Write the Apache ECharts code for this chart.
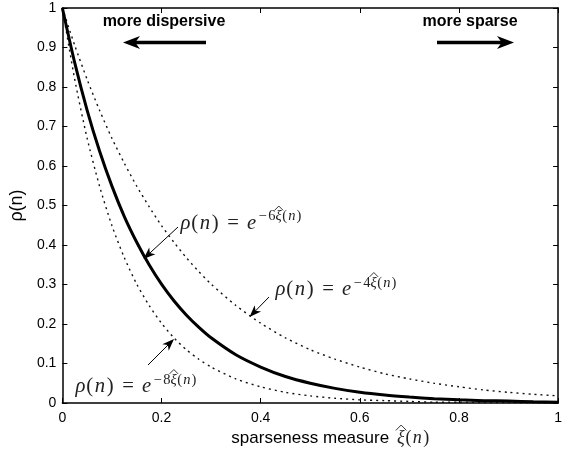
<!DOCTYPE html>
<html><head><meta charset="utf-8">
<script src="https://cdn.jsdelivr.net/npm/echarts@6/dist/echarts.min.js"></script>
<style>html,body{margin:0;padding:0;background:#fff}#c{width:565px;height:457px}</style>
</head><body><div id="c"></div>
<script>
// ---- data ----
const xVals = [0,0.025,0.05,0.075,0.1,0.125,0.15,0.175,0.2,0.225,0.25,0.275,0.3,0.35,0.4,0.45,0.5,0.55,0.6,0.65,0.7,0.75,0.8,0.85,0.9,0.95,1];
const rhoK4 = [1,0.905,0.819,0.741,0.670,0.607,0.549,0.497,0.449,0.407,0.368,0.333,0.301,0.247,0.202,0.165,0.135,0.111,0.091,0.074,0.061,0.050,0.041,0.033,0.027,0.022,0.018];
const rhoK6 = [1,0.861,0.741,0.638,0.549,0.472,0.407,0.350,0.301,0.259,0.223,0.192,0.165,0.122,0.091,0.067,0.050,0.037,0.027,0.020,0.015,0.011,0.008,0.006,0.005,0.003,0.002];
const rhoK8 = [1,0.819,0.670,0.549,0.449,0.368,0.301,0.247,0.202,0.165,0.135,0.111,0.091,0.061,0.041,0.027,0.018,0.012,0.008,0.006,0.004,0.002,0.002,0.001,0.001,0.0005,0.0003];
const xTickLabels = ['0','0.2','0.4','0.6','0.8','1'];
const yTickLabels = ['0','0.1','0.2','0.3','0.4','0.5','0.6','0.7','0.8','0.9','1'];
const leftNote = 'more dispersive';
const rightNote = 'more sparse';
const xName = 'sparseness measure';
const yName = 'ρ(n)';

const SANS = '"Liberation Sans", Arial, Helvetica, sans-serif';
const SERIF = '"Liberation Serif", "Times New Roman", serif';
const INK = '#000';
const MATHINK = '#222';

// ---- math label helper (Computer-Modern-like advance widths) ----
const CM = {'ρ':0.517,'(':0.389,')':0.389,'n':0.600,'=':0.778,'e':0.466,'ξ':0.438,'−':0.778,'4':0.5,'6':0.5,'8':0.5};
function glyphs(els, x0, cy, s, tokens) {
  let x = x0;
  tokens.forEach(tk => {
    const [t, it, flag] = tk;
    let pre = 0, post = 0;
    if (flag === 'rel') { pre = 0.278 * s; post = 0.278 * s; }
    x += pre;
    const adv = CM[t] * s;
    const font = (it ? 'italic ' : '') + s + 'px ' + SERIF;
    els.push({type:'text', silent:true, x: x + adv / 2, y: cy,
      style:{text:t, font:font, fill:MATHINK, align:'center', verticalAlign:'middle', textAlign:'center', textVerticalAlign:'middle'}});
    if (flag === 'hat') {
      const top = cy - 0.42 * s;
      const hx0 = x - 0.15 * adv, hx1 = x + adv * 1.2;
      els.push({type:'polyline', silent:true, shape:{points:[[hx0, top], [(hx0 + hx1) / 2, top - 0.3 * s], [hx1, top]]},
        style:{stroke:MATHINK, fill:null, lineWidth:0.9}});
    }
    x += adv + post;
  });
  return x;
}
function rhoLabel(els, x0, cy, s, k) {
  const xe = glyphs(els, x0, cy, s, [['ρ',1],['(',0],['n',1],[')',0],['=',0,'rel'],['e',1]]);
  const ss = 0.7 * s;
  glyphs(els, xe + 0.5, cy - 0.34 * s, ss, [['−',0],[k,0],['ξ',1,'hat'],['(',0],['n',1],[')',0]]);
}
function arrow(els, tx, ty, px, py, lw, L, W) {
  const dx = px - tx, dy = py - ty, len = Math.hypot(dx, dy);
  const ux = dx / len, uy = dy / len, nx = -uy, ny = ux;
  els.push({type:'line', silent:true, shape:{x1:tx, y1:ty, x2:px - ux * L * 0.6, y2:py - uy * L * 0.6},
    style:{stroke:INK, lineWidth:lw}});
  els.push({type:'polygon', silent:true, shape:{points:[
    [px, py],
    [px - ux * L + nx * W, py - uy * L + ny * W],
    [px - ux * L * 0.72, py - uy * L * 0.72],
    [px - ux * L - nx * W, py - uy * L - ny * W]]}, style:{fill:INK}});
}

const els = [];
els.push({type:'text', silent:true, x:164, y:22, style:{text:leftNote, font:'bold 16px ' + SANS, fill:INK, align:'center', verticalAlign:'middle', textAlign:'center', textVerticalAlign:'middle'}});
els.push({type:'text', silent:true, x:470, y:22, style:{text:rightNote, font:'bold 16px ' + SANS, fill:INK, align:'center', verticalAlign:'middle', textAlign:'center', textVerticalAlign:'middle'}});
arrow(els, 206, 42.5, 123, 42.5, 3.5, 17, 6.5);
arrow(els, 437, 42.5, 514, 42.5, 3.5, 17, 6.5);

rhoLabel(els, 180, 223.5, 20.7, '6');
rhoLabel(els, 275, 290, 20.7, '4');
rhoLabel(els, 75, 387, 20.7, '8');
arrow(els, 178, 227, 143.5, 259, 1, 12, 4.5);
arrow(els, 269, 297, 249.5, 317, 1, 12, 4.5);
arrow(els, 148, 365, 174, 339, 1, 12, 4.5);
// x axis math part of the name
glyphs(els, 397, 438, 18, [['ξ',1,'hat'],['(',0],['n',1],[')',0]]);

const toPairs = arr => xVals.map((x, i) => [x, arr[i]]);
const axisCommon = {
  type:'value', min:0, max:1,
  axisLine:{show:true, onZero:false, lineStyle:{color:INK, width:1.5}},
  axisTick:{show:true, inside:true, length:5, lineStyle:{color:INK, width:1}},
  splitLine:{show:false}
};
const chart = echarts.init(document.getElementById('c'), null, {renderer:'canvas'});
chart.setOption({
  animation:false,
  backgroundColor:'#fff',
  grid:{left:58, right:5, top:8, bottom:54, containLabel:false},
  xAxis:[
    Object.assign({}, axisCommon, {position:'bottom', interval:0.2,
      name:xName, nameLocation:'middle', nameGap:24,
      nameTextStyle:{fontFamily:SANS, fontSize:17, color:INK, verticalAlign:'top'},
      axisLabel:{show:true, margin:8, fontFamily:SANS, fontSize:14, color:INK,
        formatter:v => xTickLabels[Math.round(v / 0.2)]}}),
    Object.assign({}, axisCommon, {position:'top', interval:0.2, axisLabel:{show:false}})
  ],
  yAxis:[
    Object.assign({}, axisCommon, {position:'left', interval:0.1,
      name:yName, nameLocation:'middle', nameGap:33, nameRotate:90,
      nameTextStyle:{fontFamily:SANS, fontSize:18, color:INK},
      axisLabel:{show:true, margin:6, fontFamily:SANS, fontSize:14, color:INK,
        formatter:v => yTickLabels[Math.round(v / 0.1)]}}),
    Object.assign({}, axisCommon, {position:'right', interval:0.1, axisLabel:{show:false}})
  ],
  series:[
    {type:'line', data:toPairs(rhoK4), showSymbol:false, symbol:'none', smooth:0.25,
      lineStyle:{color:'#111', width:1.4, type:[2, 4], cap:'butt'}},
    {type:'line', data:toPairs(rhoK8), showSymbol:false, symbol:'none', smooth:0.25,
      lineStyle:{color:'#111', width:1.4, type:[2, 4], cap:'butt'}},
    {type:'line', data:toPairs(rhoK6), showSymbol:false, symbol:'none', smooth:0.25,
      lineStyle:{color:INK, width:3}}
  ],
  graphic:{elements:els}
});
</script></body></html>
